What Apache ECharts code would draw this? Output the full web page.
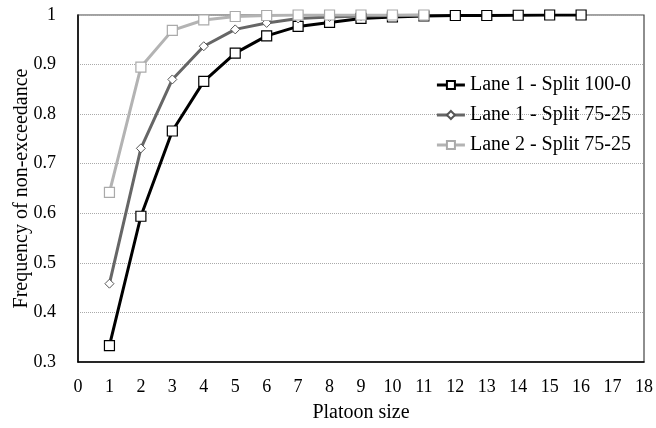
<!DOCTYPE html>
<html><head><meta charset="utf-8">
<script src="https://cdn.jsdelivr.net/npm/echarts@6/dist/echarts.min.js"></script>
<style>html,body{margin:0;padding:0;background:#fff}#c{width:656px;height:428px}</style>
</head><body><div id="c"></div>
<script>
var seriesNames = ['Lane 1 - Split 100-0', 'Lane 1 - Split 75-25', 'Lane 2 - Split 75-25'];
var xLane1Split100 = [1,2,3,4,5,6,7,8,9,10,11,12,13,14,15,16];
var lane1Split100 = [0.333,0.594,0.766,0.866,0.923,0.958,0.977,0.985,0.993,0.996,0.998,0.999,0.999,0.9995,1.0,1.0];
var xLane1Split75 = [1,2,3,4,5,6,7,8,9,10,11];
var lane1Split75 = [0.458,0.731,0.870,0.937,0.971,0.984,0.993,0.996,0.998,0.999,1.0];
var xLane2Split75 = [1,2,3,4,5,6,7,8,9,10,11];
var lane2Split75 = [0.642,0.895,0.969,0.990,0.997,0.999,1.0,1.0,1.0,1.0,1.0];

function pairs(xs, ys){ return xs.map(function(x,i){ return [x, ys[i]]; }); }
var font = "'Liberation Serif', 'Times New Roman', serif";
var chart = echarts.init(document.getElementById('c'));
chart.setOption({
  animation:false,
  textStyle:{fontFamily:font},
  grid:{left:78,right:12,top:15,bottom:66,show:true,borderColor:'#444',borderWidth:1.2,
        containLabel:false, outerBoundsMode:'none'},
  legend:{
    orient:'vertical', right:20, top:70, itemGap:10, itemWidth:28, itemHeight:10,
    textStyle:{fontFamily:font,fontSize:20,color:'#000'},
    lineStyle:{width:3},
    data:seriesNames
  },
  xAxis:{
    type:'value', min:0, max:18, interval:1,
    name:'Platoon size', nameLocation:'middle', nameGap:41, nameMoveOverlap:false,
    nameTextStyle:{fontFamily:font,fontSize:20,color:'#000'},
    axisLine:{show:true,lineStyle:{color:'#000',width:1.5}},
    axisTick:{show:false},
    axisLabel:{fontFamily:font,fontSize:18,color:'#000',margin:16},
    splitLine:{show:false}
  },
  yAxis:{
    type:'value', min:0.3, max:1, interval:0.1,
    name:'Frequency of non-exceedance', nameLocation:'middle', nameGap:46, nameRotate:90,
    nameMoveOverlap:false,
    nameTextStyle:{fontFamily:font,fontSize:20,color:'#000'},
    axisLine:{show:true,lineStyle:{color:'#000',width:1.5}},
    axisTick:{show:false},
    axisLabel:{fontFamily:font,fontSize:18,color:'#000',margin:22,
      formatter:function(v){ return String(Math.round(v*10)/10); }},
    splitLine:{show:true,lineStyle:{color:'#aaa',type:[1,1],width:1}}
  },
  series:[
    {name:seriesNames[0],type:'line',data:pairs(xLane1Split100,lane1Split100),
     lineStyle:{color:'#000',width:3},symbol:'rect',symbolSize:10,showAllSymbol:true,
     itemStyle:{color:'#fff',borderColor:'#000',borderWidth:1.2}},
    {name:seriesNames[1],type:'line',data:pairs(xLane1Split75,lane1Split75),
     lineStyle:{color:'#666',width:3},symbol:'diamond',symbolSize:9,showAllSymbol:true,
     itemStyle:{color:'#fff',borderColor:'#555',borderWidth:1}},
    {name:seriesNames[2],type:'line',data:pairs(xLane2Split75,lane2Split75),
     lineStyle:{color:'#b3b3b3',width:3},symbol:'rect',symbolSize:10,showAllSymbol:true,
     itemStyle:{color:'#fff',borderColor:'#aaa',borderWidth:1.2}}
  ]
});
</script></body></html>
